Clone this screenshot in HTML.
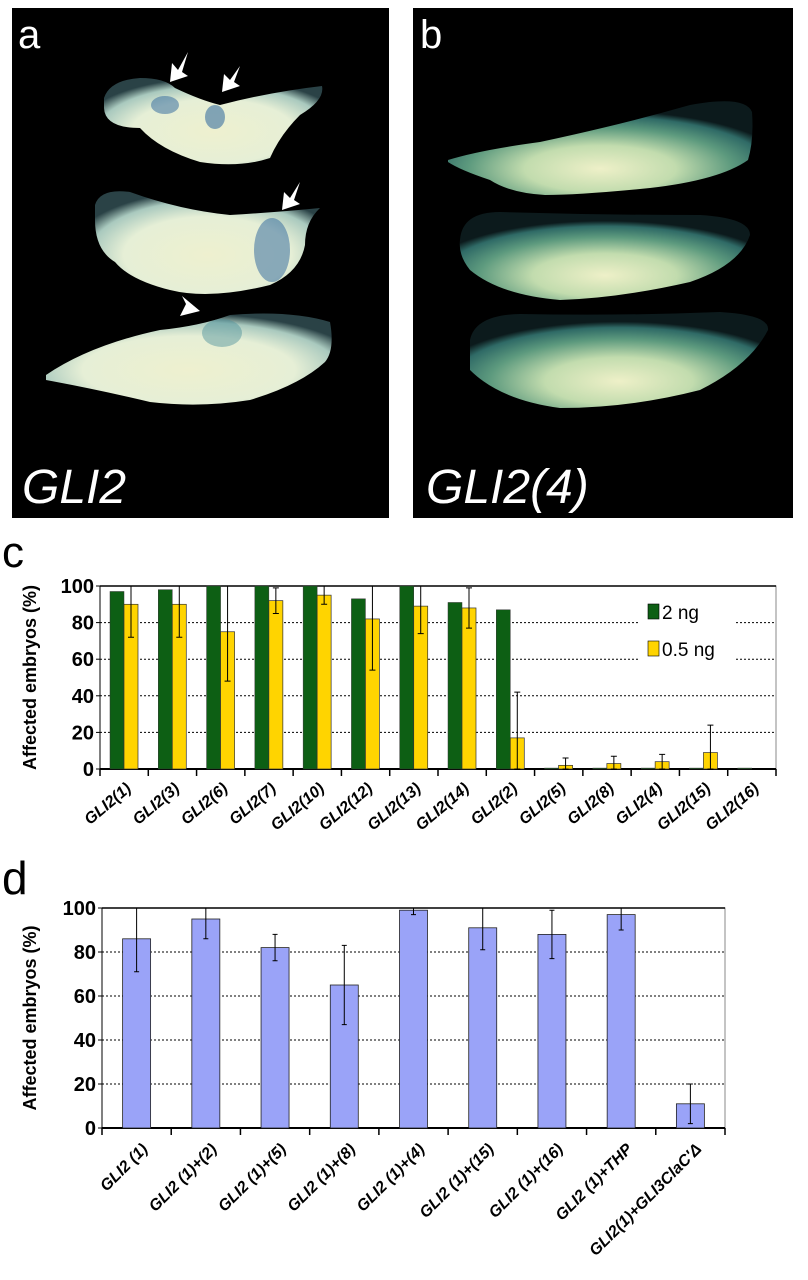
<!DOCTYPE html>
<html><head><meta charset="utf-8"><style>
html,body{margin:0;padding:0;background:#fff;}
svg{display:block;font-family:"Liberation Sans",sans-serif;}
</style></head><body>
<svg id="fig" width="808" height="1280" viewBox="0 0 808 1280" xmlns="http://www.w3.org/2000/svg">
<defs>
<radialGradient id="emb" cx="50%" cy="62%" r="62%">
<stop offset="0" stop-color="#eef0cf"/><stop offset="0.6" stop-color="#e6efd6"/><stop offset="0.85" stop-color="#a9c9be"/><stop offset="1" stop-color="#2a4246"/></radialGradient>
<radialGradient id="embB" cx="50%" cy="72%" r="62%">
<stop offset="0" stop-color="#eef0c8"/><stop offset="0.4" stop-color="#c2dcae"/><stop offset="0.7" stop-color="#5d9a7e"/><stop offset="0.9" stop-color="#2f6a66"/><stop offset="1" stop-color="#0c1a1c"/></radialGradient>
</defs>
<g>
<rect x="12" y="8" width="377" height="510" fill="#000"/>
<path d="M104,98 Q110,80 140,78 Q165,78 175,88 Q200,100 220,105 Q270,92 322,86 Q325,100 300,115 Q280,135 270,158 Q240,168 200,162 Q160,150 140,128 Q105,128 104,108 Z" fill="url(#emb)"/>
<ellipse cx="165" cy="105" rx="14" ry="9" fill="#3a6fa0" opacity="0.55"/>
<ellipse cx="215" cy="117" rx="10" ry="12" fill="#3a6fa0" opacity="0.6"/>
<path d="M95,205 Q100,188 130,192 Q180,210 230,215 Q280,212 320,208 Q305,222 305,245 Q300,272 270,285 Q210,300 170,290 Q130,280 115,262 Q95,250 95,220 Z" fill="url(#emb)"/>
<ellipse cx="272" cy="250" rx="18" ry="32" fill="#3a6fa0" opacity="0.55"/>
<path d="M46,375 Q90,345 160,330 Q200,326 230,315 Q290,310 330,322 Q335,350 325,362 Q300,385 250,400 Q200,408 150,402 Q100,390 46,380 Z" fill="url(#emb)"/>
<ellipse cx="222" cy="333" rx="20" ry="14" fill="#4a8f9a" opacity="0.45"/>
<g fill="#fff">
<path d="M188,52 L178,70 L172,63 L170,82 L188,76 L182,72 Z"/>
<path d="M240,66 L230,80 L224,74 L222,92 L240,86 L234,82 Z"/>
<path d="M300,182 L290,198 L284,192 L282,210 L300,204 L294,200 Z"/>
<path d="M172,296 L186,304 L182,296 L200,311 L180,316 L186,304 Z"/>
</g>
<text x="18" y="48" font-size="40" fill="#fff">a</text>
<text x="22" y="503" font-size="48" font-style="italic" fill="#fff">GLI2</text>
</g>
<g>
<rect x="413" y="8" width="380" height="510" fill="#000"/>
<path d="M448,160 Q480,150 540,142 Q620,125 690,105 Q745,95 752,112 Q754,140 748,160 Q720,180 650,188 Q580,195 545,195 Q510,193 490,180 Q460,170 448,162 Z" fill="url(#embB)"/>
<path d="M460,240 Q462,212 500,212 Q600,215 700,215 Q750,218 750,235 Q740,265 690,282 Q620,298 560,300 Q500,295 470,270 Q458,255 460,240 Z" fill="url(#embB)"/>
<path d="M470,340 Q475,315 520,314 Q620,316 720,312 Q770,315 768,330 Q750,365 700,390 Q630,408 560,408 Q500,400 470,370 Z" fill="url(#embB)"/>
<text x="420" y="48" font-size="40" fill="#fff">b</text>
<text x="426" y="503" font-size="48" font-style="italic" fill="#fff">GLI2(4)</text>
</g>
<text x="2" y="567" font-size="44" fill="#000">c</text>
<text x="2" y="894" font-size="46" fill="#000">d</text>
<g id="chartC"></g>
<g id="chartD"></g>
</svg>
<script>
const cCats=["GLI2(1)","GLI2(3)","GLI2(6)","GLI2(7)","GLI2(10)","GLI2(12)","GLI2(13)","GLI2(14)","GLI2(2)","GLI2(5)","GLI2(8)","GLI2(4)","GLI2(15)","GLI2(16)"];
const c2ng=[97,98,100,100,100,93,100,91,87,0.5,0.5,0.5,0.5,0.5];
const c05ng=[90,90,75,92,95,82,89,88,17,2,3,4,9,0];
const c05err=[18,18,27,7,5,28,15,11,25,4,4,4,15,0];
const cTicks=[0,20,40,60,80,100];
const dCats=["GLI2 (1)","GLI2 (1)+(2)","GLI2 (1)+(5)","GLI2 (1)+(8)","GLI2 (1)+(4)","GLI2 (1)+(15)","GLI2 (1)+(16)","GLI2 (1)+THP","GLI2(1)+GLI3ClaC'Δ"];
const dVals=[86,95,82,65,99,91,88,97,11];
const dErr=[15,9,6,18,2,10,11,7,9];
const dTicks=[0,20,40,60,80,100];
const NS="http://www.w3.org/2000/svg";
function mk(parent,tag,attrs,text){const e=document.createElementNS(NS,tag);for(const k in attrs)e.setAttribute(k,attrs[k]);if(text!==undefined)e.textContent=text;parent.appendChild(e);return e;}
function axisFrame(g,L,R,T,B,ticks,n,title,legendGap){
  const y=v=>B-(B-T)*v/100;
  mk(g,'rect',{x:L,y:T,width:R-L,height:B-T,fill:'#fff',stroke:'#888','stroke-width':1});
  ticks.forEach(t=>{
    if(t>0&&t<100){
      const segs=legendGap&&y(t)<legendGap[2]?[[L,legendGap[0]],[legendGap[1],R]]:[[L,R]];
      segs.forEach(s=>{
        const l=mk(g,'line',{x1:s[0],x2:s[1],y1:y(t),y2:y(t),stroke:'#000','stroke-dasharray':'2,2','stroke-width':1});
        
        
      });
    }
    const tx=mk(g,'text',{x:L-6,y:y(t)+7,'text-anchor':'end','font-size':20,'font-weight':'bold'},t);
    
    
    mk(g,'line',{x1:L-4,x2:L,y1:y(t),y2:y(t),stroke:'#000'});
  });
  mk(g,'line',{x1:L,x2:R,y1:T,y2:T,stroke:'#000','stroke-width':1.5});
  mk(g,'line',{x1:L,x2:R,y1:B,y2:B,stroke:'#000','stroke-width':2});
  mk(g,'line',{x1:L,x2:L,y1:T,y2:B,stroke:'#000','stroke-width':1});
  const w=(R-L)/n;
  for(let i=0;i<=n;i++)mk(g,'line',{x1:L+i*w,x2:L+i*w,y1:B,y2:B+7,stroke:'#000','stroke-width':1.5});
  const yt=mk(g,'text',{x:0,y:0,transform:`translate(${36},${(T+B)/2}) rotate(-90)`,'text-anchor':'middle','font-size':18,'font-weight':'bold'},title);
  
  
  return {y,w};
}
function errBar(g,cx,top,bot,cap){
  const e=mk(g,'path',{d:`M${cx},${top}V${bot}M${cx-cap},${top}H${cx+cap}M${cx-cap},${bot}H${cx+cap}`,stroke:'#000','stroke-width':1,fill:'none'});
  
  
}
// Chart C
(function(){
  const g=document.getElementById('chartC');
  
  
  const L=100,R=776,T=586,B=769;
  const {y,w}=axisFrame(g,L,R,T,B,cTicks,cCats.length,'Affected embryos (%)',[638,736,660]);
  cCats.forEach((c,i)=>{
    const x0=L+i*w;
    const b1=mk(g,'rect',{x:x0+10,y:y(c2ng[i]),width:14,height:B-y(c2ng[i]),fill:'#0d5f14',stroke:'#333','stroke-width':0.5});
    
    
    if(c05ng[i]>0){
      const b2=mk(g,'rect',{x:x0+24,y:y(c05ng[i]),width:14,height:B-y(c05ng[i]),fill:'#ffd400',stroke:'#333','stroke-width':0.7});
      
      
      errBar(g,x0+31,y(Math.min(100,c05ng[i]+c05err[i])),y(Math.max(0,c05ng[i]-c05err[i])),3);
    }
    const t=mk(g,'text',{x:0,y:0,transform:`translate(${x0+w/2+8},${790}) rotate(-40)`,'text-anchor':'end','font-size':16,'font-weight':'bold','font-style':'italic'},c);
    
    
  });
  const lg=mk(g,'g',{});
  
  
  mk(lg,'rect',{x:648,y:604,width:11,height:15,fill:'#0d5f14',stroke:'#000','stroke-width':0.6});
  const l1=mk(lg,'text',{x:662,y:619,'font-size':19},'2 ng');
  
  
  mk(lg,'rect',{x:648,y:641,width:11,height:15,fill:'#ffd400',stroke:'#000','stroke-width':0.6});
  const l2=mk(lg,'text',{x:662,y:656,'font-size':19},'0.5 ng');
  
  
})();
// Chart D
(function(){
  const g=document.getElementById('chartD');
  
  
  const L=102,R=725,T=908,B=1128;
  const {y,w}=axisFrame(g,L,R,T,B,dTicks,dCats.length,'Affected embryos (%)',null);
  dCats.forEach((c,i)=>{
    const cx=L+i*w+w/2;
    const b=mk(g,'rect',{x:cx-14,y:y(dVals[i]),width:28,height:B-y(dVals[i]),fill:'#9aa3f8',stroke:'#222','stroke-width':0.8});
    
    
    errBar(g,cx,y(Math.min(100,dVals[i]+dErr[i])),y(Math.max(0,dVals[i]-dErr[i])),2.5);
    const t=mk(g,'text',{x:0,y:0,transform:`translate(${cx+12},${1150}) rotate(-45)`,'text-anchor':'end','font-size':16,'font-weight':'bold','font-style':'italic'},c);
    
    
  });
})();
</script>
</body></html>
